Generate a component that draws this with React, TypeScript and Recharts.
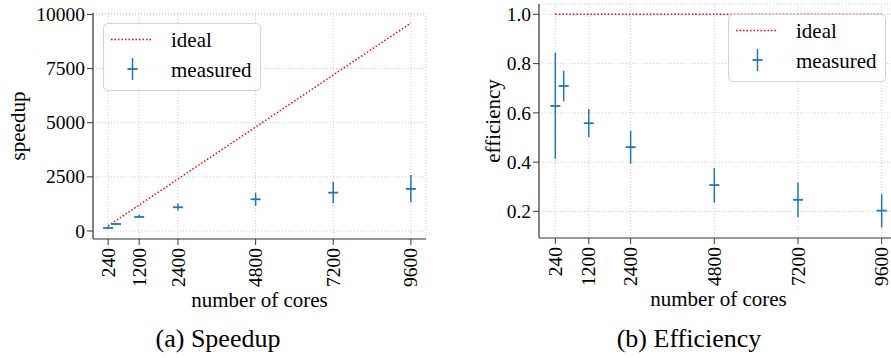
import { CartesianGrid, ComposedChart, ErrorBar, Label, Line, Scatter, XAxis, YAxis } from 'recharts'

const FONT = 'Liberation Serif'
const BLUE = '#1f77b4'
const SPINE = '#3a3a3a'

// cores used in the runs
const cores = [240, 480, 1200, 2400, 4800, 7200, 9600]
const coreTicks = [240, 1200, 2400, 4800, 7200, 9600]

// speedup (measured, with error range)
const speedup = [139, 323, 647, 1095, 1465, 1771, 1942]
const speedupLow = [99, 310, 601, 946, 1156, 1280, 1327]
const speedupHigh = [203, 370, 739, 1265, 1771, 2279, 2589]
const speedupTicks = [0, 2500, 5000, 7500, 10000]

// efficiency (measured, with error range)
const efficiency = [0.628, 0.709, 0.558, 0.461, 0.307, 0.247, 0.203]
const efficiencyLow = [0.413, 0.646, 0.501, 0.394, 0.236, 0.177, 0.135]
const efficiencyHigh = [0.844, 0.771, 0.616, 0.527, 0.376, 0.317, 0.27]
const efficiencyTicks = [0.2, 0.4, 0.6, 0.8, 1.0]

const speedupRows = cores.map((c, i) => ({
  cores: c,
  ideal: c,
  value: speedup[i],
  err: [speedup[i] - speedupLow[i], speedupHigh[i] - speedup[i]],
}))

const efficiencyRows = cores.map((c, i) => ({
  cores: c,
  ideal: 1,
  value: efficiency[i],
  err: [efficiency[i] - efficiencyLow[i], efficiencyHigh[i] - efficiency[i]],
}))

const txt = (size: number) => ({ fontFamily: FONT, fontSize: size, fill: '#000' })

const HBar = (p: any) => (
  <line x1={p.cx - 5} x2={p.cx + 5} y1={p.cy} y2={p.cy} stroke={BLUE} strokeWidth={1.8} />
)

const CoreTick = ({ x, y, payload }: any) => (
  <text x={x} y={y} transform={`rotate(-90 ${x} ${y})`} textAnchor="end" dy="0.34em" style={txt(19.5)}>
    {payload.value}
  </text>
)

const ValueTick = ({ x, y, payload, fmt }: any) => (
  <text x={x} y={y} textAnchor="end" dy="0.34em" style={txt(19.5)}>
    {fmt(payload.value)}
  </text>
)

interface PanelProps {
  rows: typeof speedupRows
  yDomain: [number, number]
  yTicks: number[]
  yLabel: string
  yLabelX: number
  fmt: (v: number) => string
  width: number
  top: number
  right: number
  xAxisHeight: number
}

function Panel({ rows, yDomain, yTicks, yLabel, yLabelX, fmt, width, top, right, xAxisHeight }: PanelProps) {
  return (
    <ComposedChart width={width} height={358} data={rows} margin={{ top, right, bottom: 0, left: 0 }}>
      <CartesianGrid stroke="#cfcfcf" strokeDasharray="1 2" />
      <XAxis
        dataKey="cores"
        type="number"
        domain={[-228, 10068]}
        ticks={coreTicks}
        interval={0}
        allowDataOverflow
        height={xAxisHeight}
        tick={(p: any) => <CoreTick {...p} />}
        tickSize={6}
        tickMargin={3}
        axisLine={{ stroke: SPINE, strokeWidth: 1.2 }}
        tickLine={{ stroke: SPINE }}
      >
        <Label
          content={({ viewBox }: any) => (
            <text x={viewBox.x + viewBox.width / 2} y={viewBox.y + 68} textAnchor="middle" style={txt(21)}>
              number of cores
            </text>
          )}
        />
      </XAxis>
      <XAxis
        xAxisId="top"
        dataKey="cores"
        type="number"
        orientation="top"
        domain={[-228, 10068]}
        height={0}
        tick={false}
        tickLine={false}
        axisLine={{ stroke: SPINE, strokeWidth: 1.2 }}
      />
      <YAxis
        type="number"
        domain={yDomain}
        ticks={yTicks}
        allowDataOverflow
        width={93}
        tick={(p: any) => <ValueTick {...p} fmt={fmt} />}
        tickSize={6}
        axisLine={{ stroke: SPINE, strokeWidth: 1.2 }}
        tickLine={{ stroke: SPINE }}
      >
        <Label
          content={({ viewBox }: any) => {
            const x = viewBox.x + yLabelX
            const y = viewBox.y + viewBox.height / 2
            return (
              <text x={x} y={y} transform={`rotate(-90 ${x} ${y})`} textAnchor="middle" style={txt(21)}>
                {yLabel}
              </text>
            )
          }}
        />
      </YAxis>
      <YAxis
        yAxisId="right"
        orientation="right"
        width={0}
        tick={false}
        tickLine={false}
        axisLine={{ stroke: SPINE, strokeWidth: 1.2 }}
      />
      <Line
        dataKey="ideal"
        type="linear"
        stroke="#ff0000"
        strokeWidth={1.5}
        strokeDasharray="1.5 2"
        dot={false}
        activeDot={false}
        isAnimationActive={false}
      />
      <Scatter dataKey="value" fill={BLUE} shape={HBar} isAnimationActive={false}>
        <ErrorBar dataKey="err" direction="y" width={0} stroke={BLUE} strokeWidth={1.5} isAnimationActive={false} />
      </Scatter>
    </ComposedChart>
  )
}

function LegendBox({ left, top }: { left: number; top: number }) {
  return (
    <svg width={158} height={68} style={{ position: 'absolute', left, top }}>
      <rect x={0.5} y={0.5} width={157} height={67} rx={4} fill="rgba(255,255,255,0.85)" stroke="#d4d4d4" />
      <line x1={8} x2={50} y1={16.5} y2={16.5} stroke="#ff0000" strokeWidth={1.5} strokeDasharray="1.5 2" />
      <text x={68} y={23.5} style={txt(21)}>ideal</text>
      <line x1={29.5} x2={29.5} y1={35} y2={57} stroke={BLUE} strokeWidth={1.5} />
      <line x1={24.5} x2={34.5} y1={46} y2={46} stroke={BLUE} strokeWidth={1.8} />
      <text x={68} y={53.5} style={txt(21)}>measured</text>
    </svg>
  )
}

export default function App() {
  return (
    <div
      style={{
        position: 'absolute',
        left: 0,
        top: 0,
        width: 891,
        height: 358,
        overflow: 'hidden',
        background: '#fff',
        fontFamily: FONT,
      }}
    >
      <div style={{ position: 'absolute', left: 0, top: 0 }}>
        <Panel
          rows={speedupRows}
          yDomain={[-370, 10065]}
          yTicks={speedupTicks}
          yLabel="speedup"
          yLabelX={24.5}
          fmt={(v) => String(v)}
          width={440}
          top={13}
          right={14}
          xAxisHeight={119}
        />
      </div>
      <div style={{ position: 'absolute', left: 446, top: 0 }}>
        <Panel
          rows={efficiencyRows}
          yDomain={[0.092, 1.042]}
          yTicks={efficiencyTicks}
          yLabel="efficiency"
          yLabelX={53.5}
          fmt={(v) => v.toFixed(1)}
          width={470}
          top={4}
          right={18}
          xAxisHeight={120}
        />
      </div>
      <LegendBox left={103} top={23} />
      <LegendBox left={728} top={14} />
      <svg width={891} height={358} style={{ position: 'absolute', left: 0, top: 0, pointerEvents: 'none' }}>
        <text x={218} y={347} textAnchor="middle" style={txt(26)}>
          (a) Speedup
        </text>
        <text x={689} y={347} textAnchor="middle" style={txt(26)}>
          (b) Efficiency
        </text>
      </svg>
    </div>
  )
}
